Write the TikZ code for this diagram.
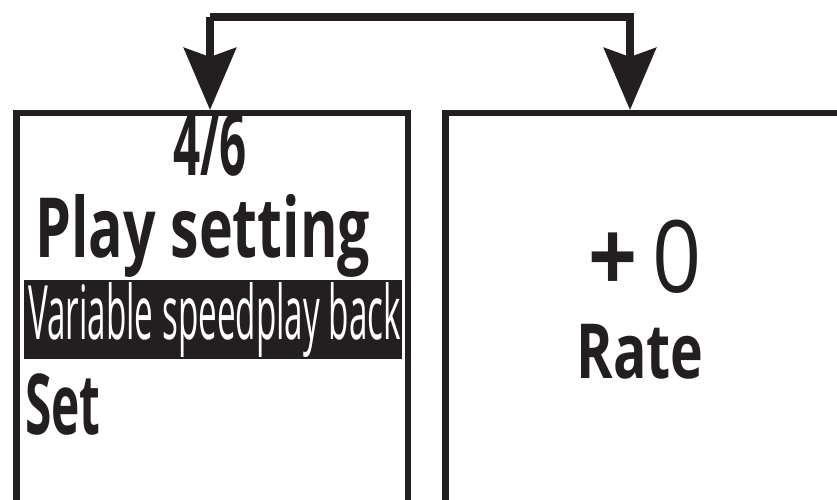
\documentclass[tikz,border=0pt]{standalone}
\usepackage{fontspec}
\setmainfont{Open Sans}
\usepackage{graphicx}
\usetikzlibrary{arrows.meta}
\definecolor{ink}{HTML}{231F20}
\tikzset{
  frame/.style={draw=ink, line width=6.5pt, line join=miter},
  link/.style={draw=ink, line width=8pt, -{Stealth[length=62pt, width=52pt, inset=9pt]}},
  txt/.style={inner sep=0pt, text=ink},
}
\begin{document}
\begin{tikzpicture}[x=1pt,y=1pt]
\useasboundingbox (0,0) rectangle (837,499);
\fill[white] (0,0) rectangle (837,499);
% screens (open at bottom)
\draw[frame] (16.5,-10) -- (16.5,386) -- (408,386) -- (408,-10);
\draw[frame] (445.5,-10) -- (445.5,386) -- (850,386);
\coordinate (ltop) at (210,389);
\coordinate (rtop) at (630,389);
\coordinate (lbend) at (210,482);
\coordinate (rbend) at (630,482);
\draw[link] (lbend) -- (rbend) -- (rtop);
\draw[link] (lbend) -- (ltop);
% left screen text
\node[txt, anchor=base, font=\bfseries\fontsize{88}{88}\selectfont] (idx) at (210,324) {\scalebox{0.54}[1]{4/6}};
\node[txt, anchor=base west, font=\bfseries\fontsize{83}{83}\selectfont] (play) at (35,242) {\scalebox{0.69}[1]{Play setting}};
\fill[ink] (24,140) rectangle (402,219);
\node[txt, anchor=base west, text=white, font=\fontsize{75}{75}\selectfont] (var) at (28,160) {\scalebox{0.443}[1]{Variable speedplay back}};
\node[txt, anchor=base west, font=\bfseries\fontsize{84}{84}\selectfont] (set) at (25,65) {\scalebox{0.57}[1]{Set}};
% right screen text
\node[txt, anchor=base, font=\fontsize{100}{100}\selectfont] (val) at (645,207) {\scalebox{0.86}[1]{{\fontseries{sb}\selectfont+}\,0}};
\node[txt, anchor=base, font=\bfseries\fontsize{76}{76}\selectfont] (rate) at (640,121) {\scalebox{0.73}[1]{Rate}};
\end{tikzpicture}
\end{document}
